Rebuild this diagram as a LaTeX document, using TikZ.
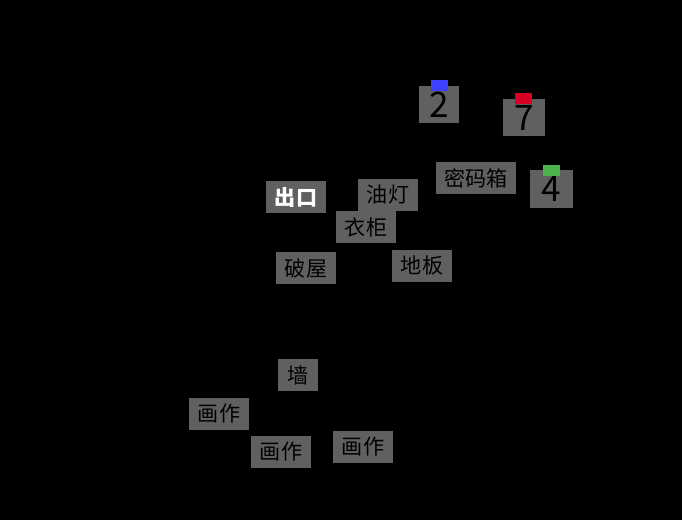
\documentclass[tikz,border=0pt]{standalone}
\usepackage{fontspec}
\newfontfamily\cjk{Noto Sans CJK SC}
\usetikzlibrary{backgrounds}

\tikzset{
  room/.style={fill=gray!75!black, text=black, inner sep=0pt, minimum height=32*0.02cm, font=\cjk\fontsize{12}{12}\selectfont},
  digit/.style={room, minimum width=40*0.02cm, minimum height=37*0.02cm, font=\cjk\fontsize{20}{20}\selectfont},
  tag/.style={minimum width=17*0.02cm, minimum height=11*0.02cm, inner sep=0pt},
  link/.style={white, thick}
}

\begin{document}
\begin{tikzpicture}[x=0.02cm, y=-0.02cm]
        \fill[black] (0,0) rectangle (682,520);
        \useasboundingbox (0,0) rectangle (682,520);

        \node[room, minimum width=80*0.02cm] (box) at (476,178) {密码箱};
        \node[digit] (two) at (439,105) {2};
        \node[digit, minimum width=42*0.02cm] (seven) at (524,118) {7};
        \node[digit, minimum width=43*0.02cm] (four) at (551,189) {4};
        \node[tag, fill=blue!75!white] at (439,86) {};
        \node[tag, fill=purple!60!red] at (523,99) {};
        \node[tag, fill=green!40!gray] at (551,171) {};

        \node[room, minimum width=60*0.02cm] (lamp) at (388,195) {油灯};
        \node[room, minimum width=60*0.02cm, text=white, font=\cjk\bfseries\fontsize{12}{12}\selectfont] (exit) at (296,197) {出口};
        \node[room, minimum width=60*0.02cm] (closet) at (366,227) {衣柜};
        \node[room, minimum width=60*0.02cm] (hut) at (306,268) {破屋};
        \node[room, minimum width=60*0.02cm] (floor) at (422,266) {地板};
        \node[room, minimum width=40*0.02cm] (wall) at (298,375) {墙};
        \node[room, minimum width=60*0.02cm] (pic1) at (219,414) {画作};
        \node[room, minimum width=60*0.02cm] (pic2) at (281,452) {画作};
        \node[room, minimum width=60*0.02cm] (pic3) at (363,447) {画作};

        \begin{scope}[on background layer]
        \draw[link] (two) -- (box);
        \draw[link] (seven) -- (box);
        \draw[link] (box) -- (four);
        \draw[link] (box) -- (lamp);
        \draw[gray!25!black, line width=4pt, line cap=round] (362,208) -- (396,208);
        \draw[link, double=black, double distance=1.5pt, thin] (closet) -- (hut);
        \draw[link] (exit) -- (hut);
        \draw[link] (hut) -- (floor);
        \draw[link] (hut) -- (wall);
        \draw[link] (wall) -- (pic1);
        \draw[link] (wall) -- (pic2);
        \draw[link] (wall) -- (pic3);
        \end{scope}
\end{tikzpicture}
\end{document}
